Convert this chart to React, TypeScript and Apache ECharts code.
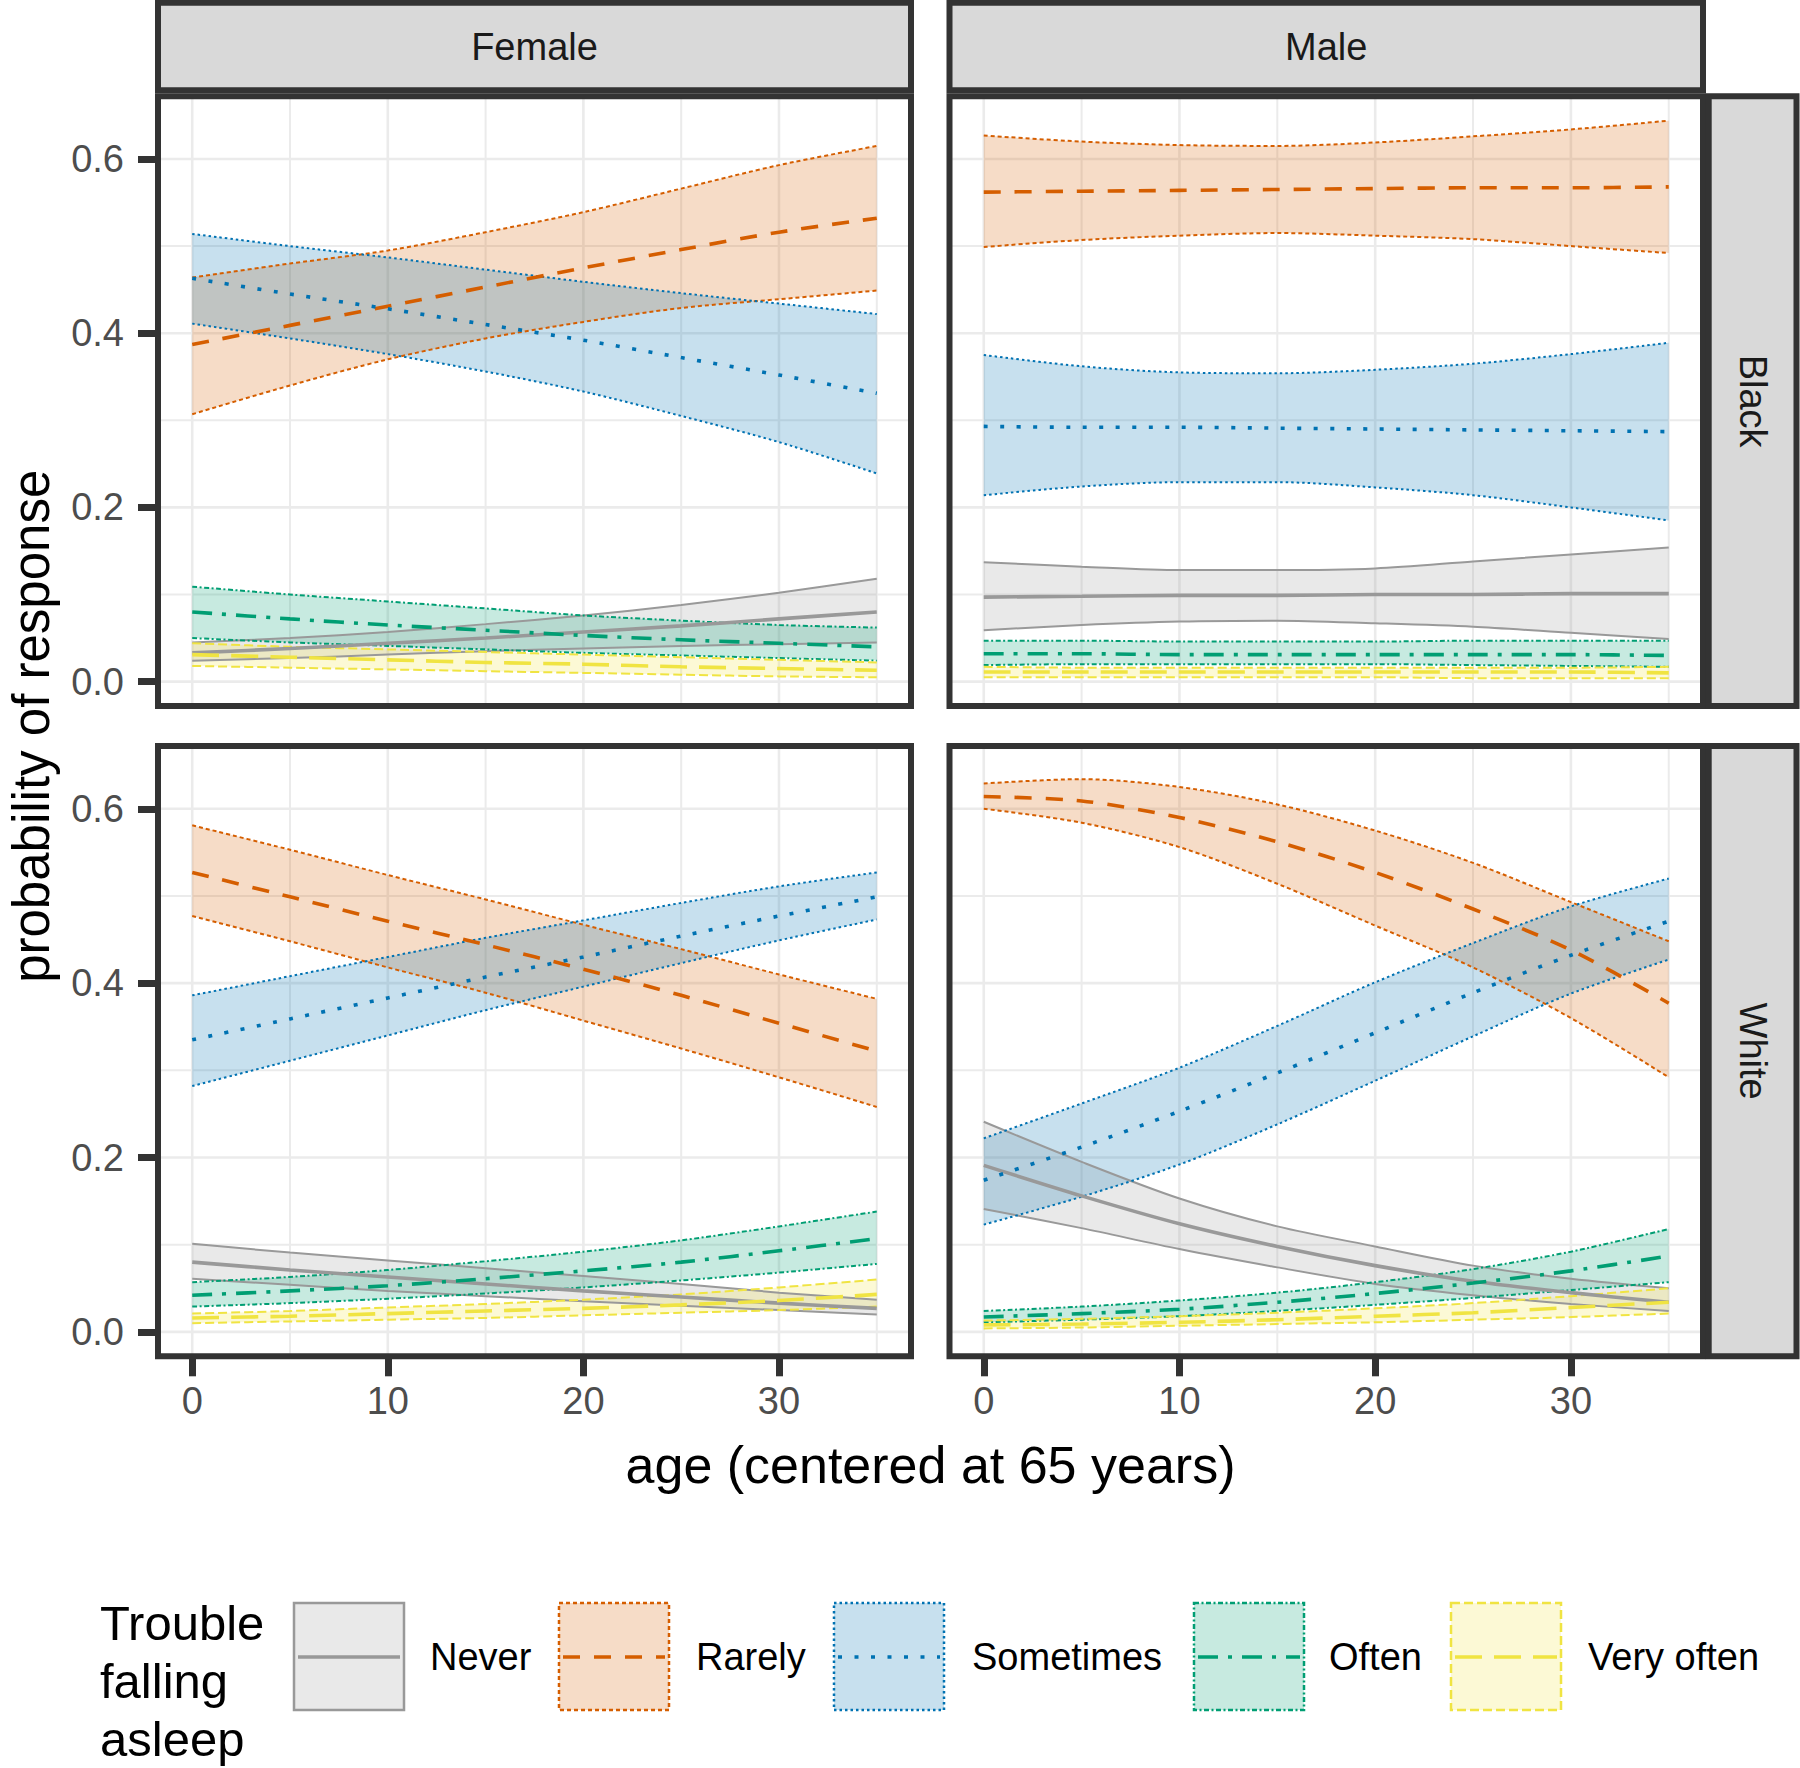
import React, { useEffect, useRef } from "react";
import * as echarts from "echarts";

// ---------------- data ----------------
const AGES = [0, 5, 10, 15, 20, 25, 30, 35];
const CATEGORIES = ["Never", "Rarely", "Sometimes", "Often", "Very often"];
const COLORS = ["#999999", "#D55E00", "#0072B2", "#009E73", "#F0E442"];
const X_TICKS = [0, 10, 20, 30];
const Y_TICKS = [0, 0.2, 0.4, 0.6];
const X_GRID = [0, 5, 10, 15, 20, 25, 30, 35];
const Y_GRID = [0, 0.1, 0.2, 0.3, 0.4, 0.5, 0.6];
const COLUMN_LABELS = ["Female", "Male"];
const ROW_LABELS = ["Black", "White"];

// each array: [lower, mean, upper] at AGES
const FB_NEVER = [
  [0.024, 0.027, 0.031, 0.035, 0.038, 0.041, 0.043, 0.045],
  [0.033, 0.038, 0.044, 0.05, 0.057, 0.064, 0.072, 0.08],
  [0.045, 0.05, 0.057, 0.066, 0.076, 0.088, 0.102, 0.118],
];
const FB_RARELY = [
  [0.307, 0.34, 0.37, 0.394, 0.413, 0.429, 0.439, 0.449],
  [0.387, 0.409, 0.431, 0.453, 0.475, 0.496, 0.516, 0.532],
  [0.464, 0.48, 0.495, 0.516, 0.539, 0.566, 0.593, 0.615],
];
const FB_SOMETIMES = [
  [0.411, 0.394, 0.376, 0.356, 0.333, 0.305, 0.275, 0.239],
  [0.463, 0.445, 0.428, 0.41, 0.392, 0.372, 0.352, 0.331],
  [0.514, 0.5, 0.487, 0.473, 0.459, 0.446, 0.434, 0.422],
];
const FB_OFTEN = [
  [0.05, 0.045, 0.041, 0.037, 0.033, 0.03, 0.027, 0.024],
  [0.08, 0.072, 0.065, 0.059, 0.053, 0.048, 0.044, 0.04],
  [0.109, 0.1, 0.092, 0.084, 0.076, 0.07, 0.065, 0.062],
];
const FB_VERYOFTEN = [
  [0.018, 0.016, 0.014, 0.012, 0.01, 0.008, 0.006, 0.005],
  [0.031, 0.028, 0.025, 0.022, 0.02, 0.017, 0.015, 0.013],
  [0.044, 0.04, 0.037, 0.034, 0.031, 0.028, 0.025, 0.022],
];

const MB_NEVER = [
  [0.059, 0.065, 0.069, 0.07, 0.067, 0.063, 0.056, 0.049],
  [0.097, 0.098, 0.099, 0.099, 0.1, 0.1, 0.101, 0.101],
  [0.137, 0.132, 0.128, 0.128, 0.13, 0.138, 0.146, 0.154],
];
const MB_RARELY = [
  [0.499, 0.507, 0.512, 0.515, 0.512, 0.508, 0.5, 0.492],
  [0.562, 0.563, 0.564, 0.565, 0.566, 0.567, 0.567, 0.568],
  [0.627, 0.62, 0.616, 0.615, 0.619, 0.626, 0.634, 0.644],
];
const MB_SOMETIMES = [
  [0.214, 0.224, 0.229, 0.229, 0.223, 0.214, 0.2, 0.185],
  [0.293, 0.292, 0.292, 0.291, 0.29, 0.289, 0.288, 0.287],
  [0.375, 0.362, 0.355, 0.354, 0.358, 0.365, 0.376, 0.389],
];
const MB_OFTEN = [
  [0.019, 0.02, 0.02, 0.02, 0.02, 0.019, 0.018, 0.017],
  [0.032, 0.032, 0.031, 0.031, 0.031, 0.031, 0.031, 0.03],
  [0.047, 0.047, 0.046, 0.046, 0.046, 0.047, 0.047, 0.047],
];
const MB_VERYOFTEN = [
  [0.005, 0.005, 0.005, 0.005, 0.005, 0.004, 0.004, 0.004],
  [0.011, 0.011, 0.011, 0.011, 0.011, 0.011, 0.011, 0.01],
  [0.017, 0.016, 0.016, 0.016, 0.016, 0.016, 0.016, 0.017],
];

const FW_NEVER = [
  [0.061, 0.054, 0.047, 0.041, 0.035, 0.03, 0.025, 0.02],
  [0.08, 0.071, 0.063, 0.055, 0.047, 0.04, 0.033, 0.027],
  [0.101, 0.091, 0.082, 0.073, 0.064, 0.055, 0.045, 0.037],
];
const FW_RARELY = [
  [0.477, 0.448, 0.418, 0.389, 0.357, 0.325, 0.292, 0.258],
  [0.527, 0.499, 0.471, 0.444, 0.416, 0.386, 0.354, 0.322],
  [0.581, 0.553, 0.524, 0.496, 0.467, 0.439, 0.41, 0.382],
];
const FW_SOMETIMES = [
  [0.282, 0.311, 0.34, 0.369, 0.396, 0.423, 0.449, 0.473],
  [0.335, 0.359, 0.383, 0.407, 0.43, 0.454, 0.477, 0.499],
  [0.386, 0.408, 0.43, 0.452, 0.472, 0.492, 0.511, 0.527],
];
const FW_OFTEN = [
  [0.029, 0.033, 0.038, 0.044, 0.051, 0.059, 0.068, 0.078],
  [0.042, 0.047, 0.053, 0.061, 0.07, 0.08, 0.093, 0.107],
  [0.057, 0.063, 0.071, 0.081, 0.092, 0.105, 0.121, 0.138],
];
const FW_VERYOFTEN = [
  [0.01, 0.012, 0.014, 0.016, 0.019, 0.022, 0.025, 0.029],
  [0.016, 0.018, 0.021, 0.024, 0.027, 0.031, 0.036, 0.043],
  [0.021, 0.024, 0.028, 0.032, 0.037, 0.043, 0.051, 0.06],
];

const MW_NEVER = [
  [0.141, 0.119, 0.095, 0.074, 0.055, 0.042, 0.032, 0.024],
  [0.191, 0.156, 0.124, 0.098, 0.076, 0.058, 0.045, 0.034],
  [0.241, 0.195, 0.153, 0.121, 0.098, 0.076, 0.061, 0.05],
];
const MW_RARELY = [
  [0.6, 0.584, 0.556, 0.514, 0.466, 0.418, 0.36, 0.292],
  [0.614, 0.609, 0.59, 0.562, 0.527, 0.485, 0.438, 0.377],
  [0.629, 0.634, 0.625, 0.605, 0.575, 0.538, 0.493, 0.448],
];
const MW_SOMETIMES = [
  [0.123, 0.155, 0.192, 0.238, 0.288, 0.339, 0.388, 0.427],
  [0.174, 0.212, 0.253, 0.297, 0.343, 0.389, 0.432, 0.471],
  [0.222, 0.262, 0.303, 0.351, 0.401, 0.446, 0.488, 0.52],
];
const MW_OFTEN = [
  [0.011, 0.014, 0.018, 0.024, 0.031, 0.039, 0.048, 0.057],
  [0.017, 0.021, 0.026, 0.034, 0.044, 0.056, 0.07, 0.087],
  [0.024, 0.029, 0.036, 0.045, 0.057, 0.072, 0.092, 0.118],
];
const MW_VERYOFTEN = [
  [0.004, 0.005, 0.007, 0.009, 0.011, 0.014, 0.017, 0.021],
  [0.008, 0.009, 0.011, 0.014, 0.018, 0.022, 0.028, 0.034],
  [0.013, 0.015, 0.018, 0.022, 0.027, 0.033, 0.041, 0.05],
];

const PANEL_DATA = [
  { row: 0, col: 0, cats: [FB_NEVER, FB_RARELY, FB_SOMETIMES, FB_OFTEN, FB_VERYOFTEN] },
  { row: 0, col: 1, cats: [MB_NEVER, MB_RARELY, MB_SOMETIMES, MB_OFTEN, MB_VERYOFTEN] },
  { row: 1, col: 0, cats: [FW_NEVER, FW_RARELY, FW_SOMETIMES, FW_OFTEN, FW_VERYOFTEN] },
  { row: 1, col: 1, cats: [MW_NEVER, MW_RARELY, MW_SOMETIMES, MW_OFTEN, MW_VERYOFTEN] },
];

// ---------------- layout / style ----------------
const W = 1800;
const H = 1768;
const FONT = "'Liberation Sans', Arial, Helvetica, sans-serif";
const X_MIN = -1.75;
const X_MAX = 36.75;
const Y_MIN = -0.028;
const Y_MAX = 0.672;
const PANEL_X = [
  [158, 911],
  [949.5, 1703],
];
const PANEL_Y = [
  [96.3, 706],
  [746, 1356.3],
];
const STRIP_TOP = [2.8, 90.3];
const STRIP_RIGHT = [1708.7, 1796.5];
const BORDER = "#333333";
const BORDER_W = 6;
const MEAN_DASH: any[] = ["solid", [17, 14], [4, 12.5], [20, 10, 4, 10], [27, 12]];
const EDGE_DASH: any[] = ["solid", [4, 3], [2.5, 3], [5, 2.5, 2, 2.5], [9, 4]];
const KEY_X = [294, 559, 834, 1194, 1451];
const LABEL_X = [430, 696, 972, 1329, 1588];

function rgba(hex: string, a: number) {
  const n = parseInt(hex.slice(1), 16);
  return `rgba(${(n >> 16) & 255},${(n >> 8) & 255},${n & 255},${a})`;
}

function buildOption() {
  const grids: any[] = [];
  const xAxes: any[] = [];
  const yAxes: any[] = [];
  const series: any[] = [];
  const graphics: any[] = [];

  PANEL_DATA.forEach((p, gi) => {
    const [x0, x1] = PANEL_X[p.col];
    const [y0, y1] = PANEL_Y[p.row];
    grids.push({ left: x0, top: y0, width: x1 - x0, height: y1 - y0, show: false });
    const isBottom = p.row === 1;
    const isLeft = p.col === 0;
    xAxes.push({
      type: "value",
      gridIndex: gi,
      position: "bottom",
      min: X_MIN,
      max: X_MAX,
      axisLine: { show: false, onZero: false },
      splitLine: { show: false },
      axisTick: {
        show: isBottom,
        customValues: X_TICKS,
        length: 20,
        lineStyle: { color: BORDER, width: 7 },
      },
      axisLabel: {
        show: isBottom,
        customValues: X_TICKS,
        margin: 26,
        fontSize: 38,
        color: "#4d4d4d",
        fontFamily: FONT,
        formatter: (v: number) => String(v),
      },
    });
    yAxes.push({
      type: "value",
      gridIndex: gi,
      position: "left",
      min: Y_MIN,
      max: Y_MAX,
      axisLine: { show: false, onZero: false },
      splitLine: { show: false },
      axisTick: {
        show: isLeft,
        customValues: Y_TICKS,
        length: 20,
        lineStyle: { color: BORDER, width: 7 },
      },
      axisLabel: {
        show: isLeft,
        customValues: Y_TICKS,
        margin: 34,
        fontSize: 38,
        color: "#4d4d4d",
        fontFamily: FONT,
        formatter: (v: number) => v.toFixed(1),
      },
    });

    // grid lines (through scales)
    X_GRID.forEach((x) => {
      series.push({
        type: "line",
        xAxisIndex: gi,
        yAxisIndex: gi,
        data: [
          [x, Y_MIN],
          [x, Y_MAX],
        ],
        symbol: "none",
        silent: true,
        z: 1,
        lineStyle: { color: "#ebebeb", width: x % 10 === 0 ? 2.6 : 2 },
      });
    });
    Y_GRID.forEach((y) => {
      series.push({
        type: "line",
        xAxisIndex: gi,
        yAxisIndex: gi,
        data: [
          [X_MIN, y],
          [X_MAX, y],
        ],
        symbol: "none",
        silent: true,
        z: 1,
        lineStyle: { color: "#ebebeb", width: Math.round(y * 10) % 2 === 0 ? 2.6 : 2 },
      });
    });

    // ribbons: stacked lower + (upper - lower); value column first so it is the stacked dimension
    p.cats.forEach((cat, ci) => {
      const [lo, , hi] = cat;
      const stack = `g${gi}c${ci}`;
      const color = COLORS[ci];
      const edge = { color, width: 2, type: EDGE_DASH[ci], cap: "butt" };
      series.push({
        type: "line",
        name: CATEGORIES[ci],
        xAxisIndex: gi,
        yAxisIndex: gi,
        stack,
        encode: { x: 1, y: 0 },
        data: AGES.map((a, k) => [lo[k], a]),
        symbol: "none",
        smooth: 0.3,
        silent: true,
        z: 2,
        lineStyle: edge,
      });
      series.push({
        type: "line",
        name: CATEGORIES[ci],
        xAxisIndex: gi,
        yAxisIndex: gi,
        stack,
        encode: { x: 1, y: 0 },
        data: AGES.map((a, k) => [hi[k] - lo[k], a]),
        symbol: "none",
        smooth: 0.3,
        silent: true,
        z: 2,
        lineStyle: edge,
        areaStyle: { color: rgba(color, 0.22), opacity: 1 },
      });
    });
    // mean lines
    p.cats.forEach((cat, ci) => {
      const mid = cat[1];
      series.push({
        type: "line",
        name: CATEGORIES[ci],
        xAxisIndex: gi,
        yAxisIndex: gi,
        data: AGES.map((a, k) => [a, mid[k]]),
        symbol: "none",
        smooth: 0.3,
        silent: true,
        z: 3,
        lineStyle: { color: COLORS[ci], width: 3.6, type: MEAN_DASH[ci], cap: "butt" },
      });
    });

    // panel border
    graphics.push({
      type: "rect",
      z: 100,
      silent: true,
      shape: { x: x0, y: y0, width: x1 - x0, height: y1 - y0 },
      style: { fill: "none", stroke: BORDER, lineWidth: BORDER_W },
    });
  });

  // top strips
  COLUMN_LABELS.forEach((lab, c) => {
    const [x0, x1] = PANEL_X[c];
    graphics.push({
      type: "rect",
      z: 100,
      silent: true,
      shape: { x: x0, y: STRIP_TOP[0], width: x1 - x0, height: STRIP_TOP[1] - STRIP_TOP[0] },
      style: { fill: "#d9d9d9", stroke: BORDER, lineWidth: BORDER_W },
    });
    graphics.push({
      type: "text",
      z: 101,
      silent: true,
      x: (x0 + x1) / 2,
      y: (STRIP_TOP[0] + STRIP_TOP[1]) / 2,
      style: {
        text: lab,
        fontSize: 38,
        fontFamily: FONT,
        fill: "#1a1a1a",
        align: "center",
        verticalAlign: "middle",
      },
    });
  });
  // right strips
  ROW_LABELS.forEach((lab, r) => {
    const [y0, y1] = PANEL_Y[r];
    graphics.push({
      type: "rect",
      z: 100,
      silent: true,
      shape: { x: STRIP_RIGHT[0], y: y0, width: STRIP_RIGHT[1] - STRIP_RIGHT[0], height: y1 - y0 },
      style: { fill: "#d9d9d9", stroke: BORDER, lineWidth: BORDER_W },
    });
    graphics.push({
      type: "text",
      z: 101,
      silent: true,
      x: (STRIP_RIGHT[0] + STRIP_RIGHT[1]) / 2,
      y: (y0 + y1) / 2,
      rotation: -Math.PI / 2,
      style: {
        text: lab,
        fontSize: 38,
        fontFamily: FONT,
        fill: "#1a1a1a",
        align: "center",
        verticalAlign: "middle",
      },
    });
  });

  // axis titles
  graphics.push({
    type: "text",
    silent: true,
    x: (PANEL_X[0][0] + PANEL_X[1][1]) / 2,
    y: 1465,
    style: {
      text: "age (centered at 65 years)",
      fontSize: 52,
      fontFamily: FONT,
      fill: "#000",
      align: "center",
      verticalAlign: "middle",
    },
  });
  graphics.push({
    type: "text",
    silent: true,
    x: 31,
    y: (PANEL_Y[0][0] + PANEL_Y[1][1]) / 2,
    rotation: Math.PI / 2,
    style: {
      text: "probability of response",
      fontSize: 51,
      fontFamily: FONT,
      fill: "#000",
      align: "center",
      verticalAlign: "middle",
    },
  });

  // legend
  graphics.push({
    type: "text",
    silent: true,
    x: 100,
    y: 1681,
    style: {
      text: "Trouble\nfalling\nasleep",
      fontSize: 49,
      lineHeight: 58,
      fontFamily: FONT,
      fill: "#000",
      align: "left",
      verticalAlign: "middle",
    },
  });
  CATEGORIES.forEach((cat, i) => {
    const kx = KEY_X[i];
    graphics.push({
      type: "rect",
      silent: true,
      shape: { x: kx, y: 1603, width: 110, height: 107 },
      style: {
        fill: rgba(COLORS[i], 0.22),
        stroke: COLORS[i],
        lineWidth: 2.5,
        lineDash: EDGE_DASH[i] === "solid" ? null : EDGE_DASH[i],
      },
    });
    graphics.push({
      type: "line",
      silent: true,
      shape: { x1: kx + 4, y1: 1657, x2: kx + 106, y2: 1657 },
      style: {
        stroke: COLORS[i],
        lineWidth: 3.6,
        lineDash: MEAN_DASH[i] === "solid" ? null : MEAN_DASH[i],
      },
    });
    graphics.push({
      type: "text",
      silent: true,
      x: LABEL_X[i],
      y: 1657,
      style: {
        text: cat,
        fontSize: 38,
        fontFamily: FONT,
        fill: "#000",
        align: "left",
        verticalAlign: "middle",
      },
    });
  });

  return {
    animation: false,
    backgroundColor: "#ffffff",
    grid: grids,
    xAxis: xAxes,
    yAxis: yAxes,
    series,
    graphic: { elements: graphics },
  };
}

export default function App() {
  const ref = useRef<HTMLDivElement>(null);
  useEffect(() => {
    document.body.style.margin = "0";
    if (!ref.current) return;
    const chart = echarts.init(ref.current, null, { renderer: "svg", width: W, height: H });
    chart.setOption(buildOption() as any);
    return () => chart.dispose();
  }, []);
  return <div ref={ref} style={{ width: W, height: H }} />;
}
